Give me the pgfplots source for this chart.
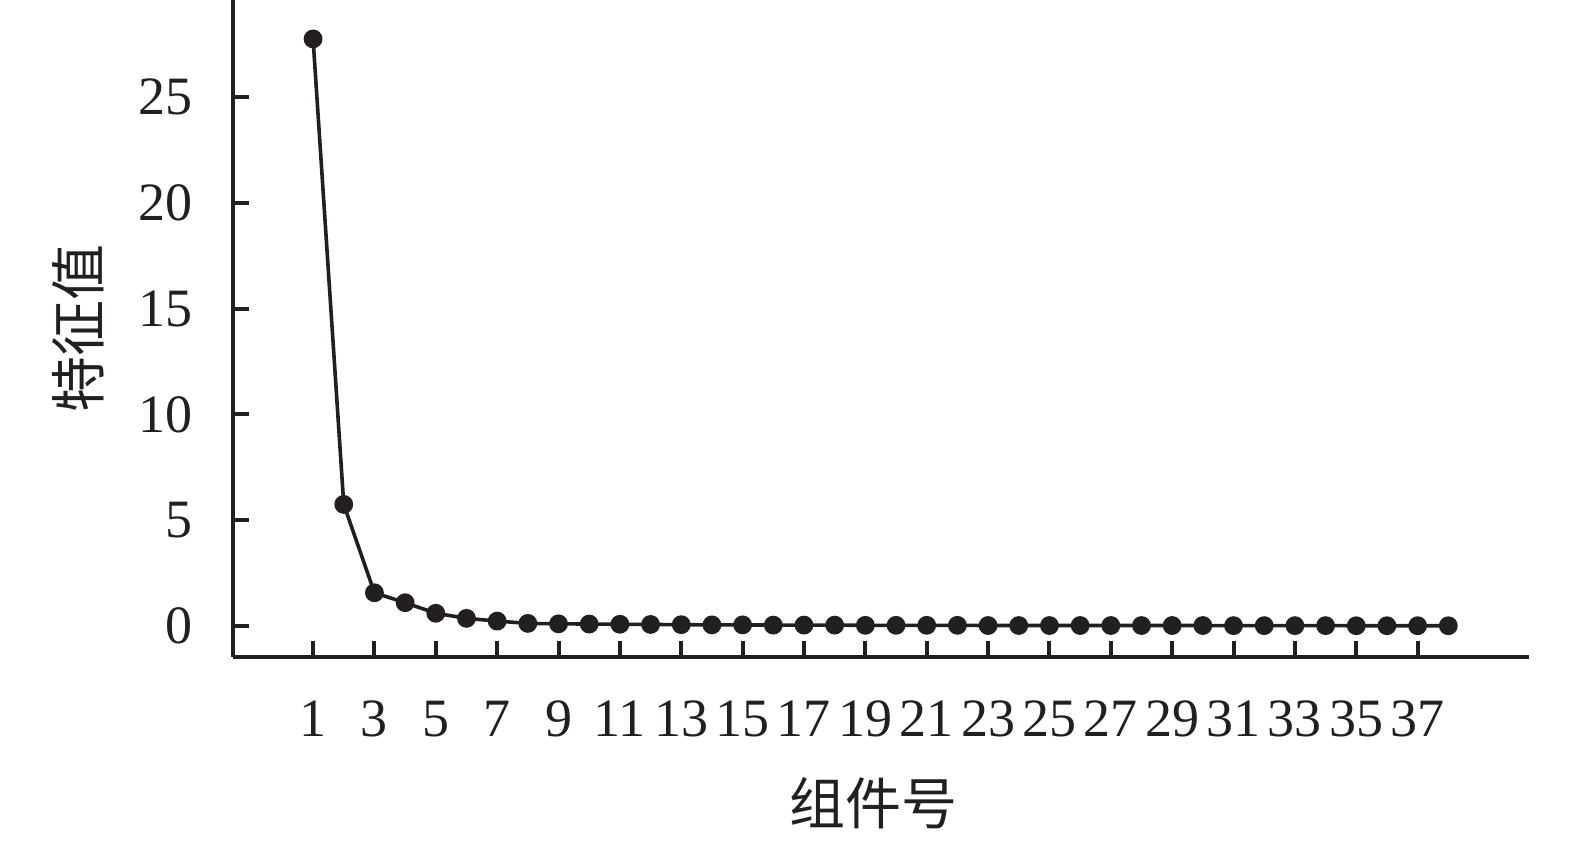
\documentclass[border=0pt]{standalone}
\usepackage{fontspec}
\setmainfont{Liberation Serif}
\newfontfamily\cjk{Noto Sans CJK SC}
\usepackage{pgfplots}
\pgfplotsset{compat=1.18}
\definecolor{ink}{HTML}{231F20}
\begin{document}
\begin{tikzpicture}
\useasboundingbox (-58.25pt,-45.75pt) rectangle (335.5pt,164.25pt);
\begin{axis}[
  at={(0pt,0pt)}, anchor=south west,
  scale only axis, width=324pt, height=164.25pt,
  xmin=-1.61, xmax=40.63, ymin=-1.48, ymax=29.6,
  axis lines=left,
  axis line style={-, line width=1pt, draw=ink},
  xtick={1,3,...,37}, ytick={0,5,...,25},
  tick align=inside, major tick length=3.9pt,
  tick style={line width=1pt, draw=ink},
  /pgf/number format/assume math mode=true,
  ticklabel style={font=\fontsize{13.5}{13.5}\selectfont, text=ink},
  yticklabel style={xshift=-6.5pt},
  xticklabel style={yshift=-7.5pt},
  xlabel={\cjk 组件号},
  ylabel={\cjk 特征值},
  label style={font=\fontsize{14}{14}\selectfont, text=ink},
  xlabel style={at={(rel axis cs:0.5,0)}, anchor=center, yshift=-36.5pt, xshift=-2pt},
  ylabel style={at={(rel axis cs:0,0.5)}, anchor=center, rotate=0, yshift=38.75pt},
  clip=false,
]
\addplot[ink, line width=0.9pt, mark=*, mark size=2.1pt, mark options={fill=ink, draw=ink, line width=0.5pt}] coordinates {
(1,27.76) (2,5.74) (3,1.56) (4,1.09) (5,0.59) (6,0.35) (7,0.22) (8,0.11) (9,0.09) (10,0.08)
(11,0.07) (12,0.06) (13,0.05) (14,0.04) (15,0.04) (16,0.03) (17,0.03) (18,0.03) (19,0.02) (20,0.02)
(21,0.02) (22,0.02) (23,0.01) (24,0.01) (25,0.01) (26,0.01) (27,0.01) (28,0.01) (29,0.01) (30,0.01)
(31,0.005) (32,0.005) (33,0.005) (34,0.005) (35,0) (36,0) (37,0) (38,0)
};
\end{axis}
\end{tikzpicture}
\end{document}
